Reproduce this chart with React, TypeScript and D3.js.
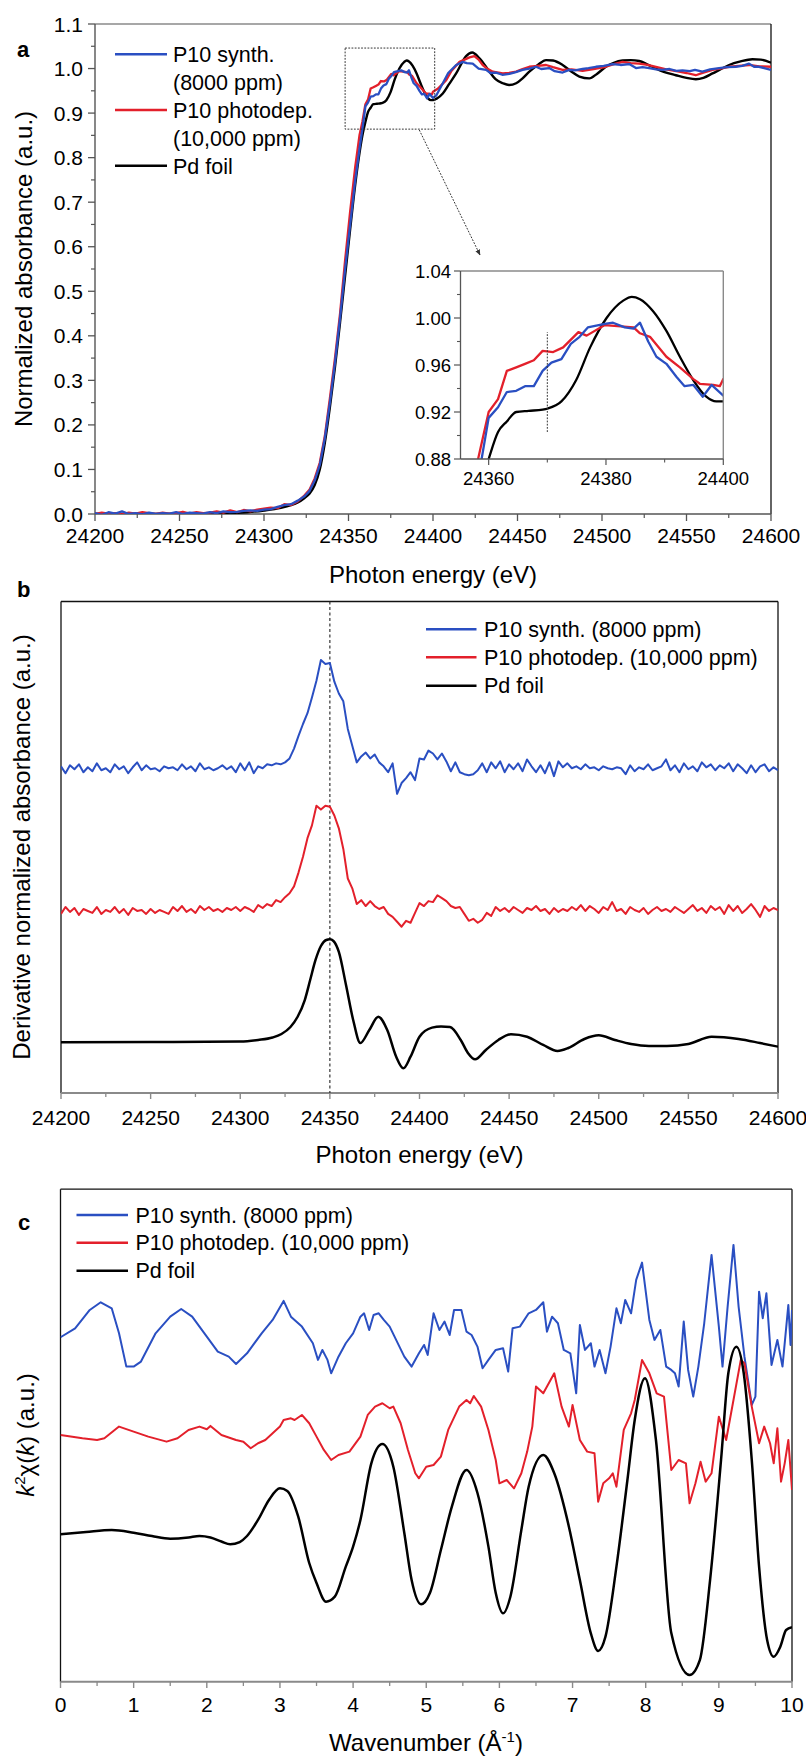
import React from 'react';
import * as d3 from 'd3';

// ---------- Panel a : normalized XANES (energy eV, normalized absorbance) ----------
const aSeriesNames = ['P10 synth.', 'P10 photodep.', 'Pd foil'];
const aLegendLines = [['P10 synth.', '(8000 ppm)'], ['P10 photodep.', '(10,000 ppm)'], ['Pd foil']];

const aBlue: [number, number][] = [
  [24200,0.002],[24204,-0.002],[24208,0.004],[24212,0.001],[24216,0.006],[24220,0.0],[24224,0.002],[24228,-0.001],[24232,0.003],[24236,0.0],
  [24240,0.002],[24244,0.001],[24248,0.004],[24252,0.0],[24256,0.003],[24260,0.002],[24264,0.001],[24268,0.004],[24272,0.002],[24276,0.006],
  [24280,0.004],[24284,0.005],[24288,0.007],[24292,0.008],[24296,0.007],[24300,0.01],[24304,0.011],[24308,0.016],[24312,0.02],[24316,0.022],[24320,0.03],
  [24324,0.04],[24327,0.052],[24330,0.075],[24333,0.11],[24336,0.17],[24339,0.25],[24342,0.34],[24345,0.44],[24348,0.55],[24351,0.65],[24354,0.75],
  [24356.5,0.82],[24358.8,0.88],[24360,0.915],[24361.6,0.924],[24363.1,0.937],[24364.7,0.938],[24366.2,0.942],[24367.7,0.942],[24369.2,0.955],
  [24370.7,0.962],[24372.4,0.965],[24374,0.978],[24375.5,0.984],[24376.9,0.992],[24379.8,0.995],[24381.2,0.996],[24383.2,0.992],[24384.7,0.991],
  [24385.8,0.996],[24387.2,0.98],[24388.6,0.967],[24390.3,0.961],[24392,0.95],[24393.4,0.942],[24394.9,0.943],[24396.5,0.933],[24398,0.943],[24400,0.934],
  [24402,0.94],[24405.8,0.967],[24409,0.99],[24413.7,1.008],[24417.6,1.015],[24420,1.012],[24423.5,1.011],[24427,1.0],[24431.4,0.997],[24434,0.99],
  [24437.3,0.991],[24441,0.986],[24445.2,0.988],[24449,0.992],[24453,0.997],[24457,1.0],[24460.9,1.004],[24464,0.999],[24468.8,1.001],[24472,0.994],
  [24476.7,0.991],[24480.6,0.997],[24484,0.996],[24488.5,0.999],[24492,1.001],[24496.4,1.004],[24501,1.006],[24506.3,1.01],[24511,1.008],[24516.1,1.01],
  [24520.1,1.001],[24524,1.003],[24527.9,1.001],[24532,0.998],[24535.8,0.997],[24540,0.999],[24544,0.995],[24547.6,0.996],[24552,0.994],[24555,0.997],
  [24559.4,0.993],[24564,0.998],[24569.3,1.001],[24574,1.003],[24579.1,1.004],[24583,1.006],[24587,1.011],[24590,1.004],[24592.9,1.004],[24596,1.001],[24600,0.997],
];

const aRed: [number, number][] = [
  [24200,0.0],[24204,0.003],[24208,0.001],[24212,0.002],[24216,-0.001],[24220,0.003],[24224,0.001],[24228,0.004],[24232,0.002],[24236,0.0],
  [24240,0.003],[24244,0.001],[24248,0.002],[24252,0.005],[24256,0.001],[24260,0.004],[24264,0.002],[24268,0.003],[24272,0.006],[24276,0.003],
  [24280,0.008],[24284,0.004],[24288,0.009],[24292,0.006],[24296,0.01],[24300,0.012],[24304,0.014],[24308,0.013],[24312,0.022],[24316,0.02],[24320,0.028],
  [24324,0.042],[24327,0.055],[24330,0.08],[24333,0.115],[24336,0.175],[24339,0.26],[24342,0.35],[24345,0.45],[24348,0.57],[24351,0.68],[24354,0.78],
  [24356.5,0.85],[24358.2,0.88],[24360,0.92],[24361.6,0.931],[24363.1,0.955],[24364.7,0.958],[24366.2,0.961],[24367.7,0.964],[24369.2,0.972],
  [24371,0.971],[24372.7,0.975],[24375.3,0.988],[24376.7,0.985],[24379.8,0.994],[24384.7,0.992],[24385.8,0.987],[24387.5,0.984],[24390.3,0.967],
  [24392.6,0.958],[24394.9,0.948],[24396,0.944],[24398.3,0.943],[24399.4,0.942],[24400,0.948],[24403,0.955],[24407.8,0.974],[24411,0.995],[24415.7,1.015],
  [24421.6,1.025],[24424.5,1.028],[24427,1.02],[24429.4,1.008],[24432,1.0],[24435.4,0.993],[24441.3,0.989],[24445,0.99],[24449.2,0.993],[24453,0.999],
  [24457,1.004],[24462,1.006],[24466.9,1.008],[24471,1.003],[24476.7,0.997],[24482,0.998],[24488.5,0.995],[24495,0.999],[24502.3,1.004],[24507,1.01],
  [24512.2,1.015],[24517,1.012],[24522,1.011],[24527,1.008],[24531.9,1.004],[24538,0.998],[24545.6,0.993],[24550,0.99],[24555.5,0.985],[24560,0.991],
  [24565.4,0.997],[24570,1.0],[24575.2,1.004],[24581,1.006],[24587,1.008],[24593,1.005],[24600,1.004],
];

const aBlack: [number, number][] = [
  [24200,0.0],[24250,0.0],[24280,0.002],[24290,0.004],[24300,0.008],[24310,0.014],[24316,0.02],[24320,0.026],[24324,0.036],[24327,0.046],
  [24330,0.065],[24333,0.1],[24336,0.16],[24339,0.24],[24342,0.33],[24345,0.43],[24348,0.535],[24351,0.64],[24354,0.74],[24356.5,0.81],
  [24358.5,0.855],[24360,0.88],[24361.6,0.903],[24363.1,0.912],[24364.7,0.92],[24366.8,0.921],[24369.2,0.922],[24370.1,0.923],[24372.4,0.929],
  [24374.9,0.947],[24377.3,0.975],[24380.1,1.0],[24383,1.015],[24384.4,1.018],[24385.8,1.016],[24388,1.006],[24390.3,0.989],[24392.6,0.967],
  [24394.9,0.947],[24397.1,0.933],[24398.8,0.929],[24400,0.929],[24402,0.932],[24405.8,0.944],[24409.5,0.965],[24413.7,0.989],[24419.6,1.028],
  [24423.2,1.036],[24427.5,1.023],[24433.4,0.993],[24437,0.976],[24441.3,0.967],[24445,0.963],[24449.2,0.967],[24453,0.978],[24457,0.993],
  [24462,1.008],[24466.9,1.019],[24471,1.018],[24476.7,1.008],[24482,0.993],[24486.6,0.982],[24492.5,0.978],[24497,0.988],[24502.3,1.004],
  [24507,1.013],[24512.2,1.018],[24517,1.019],[24522,1.017],[24527,1.009],[24531.9,1.0],[24537,0.992],[24543.7,0.985],[24550,0.979],
  [24555.5,0.976],[24560,0.979],[24565.4,0.989],[24570,0.998],[24575.2,1.008],[24582,1.016],[24589,1.021],[24594,1.02],[24600,1.013],
];

const aXTicks = [24200, 24250, 24300, 24350, 24400, 24450, 24500, 24550, 24600];
const aInsetXTicks = [24360, 24380, 24400];
const aInsetYTicks = [0.88, 0.92, 0.96, 1.0, 1.04];

// ---------- Panel b : derivative (grid 24200..24600 every 2.5 eV, arbitrary offset units) ----------
const bBlue = [
  33.2, 32.5, 33.3, 32.9, 33.4, 32.6, 33.1, 32.7, 33.5, 32.8,
  33.0, 32.6, 33.4, 32.9, 33.2, 32.5, 33.1, 33.6, 32.8, 33.3,
  32.9, 33.0, 32.7, 33.2, 33.0, 33.1, 32.8, 33.4, 32.9, 33.2,
  32.7, 33.5, 32.9, 33.1, 32.8, 33.0, 33.3, 32.9, 33.2, 32.6,
  33.5, 32.8, 33.6, 32.5, 33.2, 33.0, 33.4, 33.3, 33.5, 33.4,
  33.6, 34.0, 35.0, 36.3, 37.5, 38.6, 40.2, 41.9, 44.0, 43.6,
  43.7, 41.8, 40.6, 39.8, 37.0, 35.3, 33.6, 34.2, 34.6, 34.0,
  34.4, 33.6, 33.2, 32.6, 33.5, 30.4, 31.5, 32.0, 32.6, 31.8,
  34.0, 33.9, 34.8, 34.5, 33.9, 34.5, 33.7, 32.7, 33.6, 32.6,
  32.4, 32.3, 32.4, 32.8, 33.5, 32.6, 33.6, 33.0, 33.7, 32.6,
  33.4, 32.9, 33.5, 32.7, 33.9, 33.2, 32.6, 33.3, 32.5, 33.6,
  32.2, 33.7, 33.1, 33.5, 33.0, 33.2, 32.9, 33.4, 33.0, 33.1,
  32.8, 33.2, 33.0, 32.9, 33.1, 33.0, 32.4, 33.3, 32.7, 33.1,
  32.9, 33.4, 32.8, 33.0, 33.2, 33.9, 32.8, 33.3, 32.6, 33.5,
  32.9, 33.2, 32.7, 33.6, 33.1, 33.4, 32.8, 33.3, 33.0, 33.5,
  32.7, 33.4, 33.0, 32.5, 33.3, 32.6, 33.2, 33.4, 32.7, 33.1,
  32.8,
];

const bRed = [
  18.2, 18.9, 18.4, 18.8, 18.1, 18.7, 18.5, 18.3, 18.9, 18.2,
  18.6, 18.4, 18.9, 18.3, 18.7, 18.1, 18.8, 18.5, 18.6, 18.2,
  18.7, 18.3, 18.6, 18.4, 18.2, 18.9, 18.5, 19.0, 18.4, 18.7,
  18.3, 19.0, 18.6, 18.9, 18.5, 18.7, 18.4, 18.8, 18.6, 18.9,
  18.5, 18.9, 18.7, 18.4, 19.1, 18.8, 19.2, 19.0, 19.6, 19.4,
  19.9, 20.3, 21.0, 22.4, 24.0, 25.9, 27.2, 29.2, 28.8, 29.2,
  29.1, 28.2, 26.9, 24.8, 21.8, 20.8, 19.2, 19.6, 19.0, 19.5,
  19.0, 18.7, 18.9, 18.2, 17.9, 17.4, 16.9, 17.5, 17.3, 18.3,
  19.3, 19.0, 19.5, 19.4, 20.1, 19.8, 19.5, 19.0, 18.8, 18.9,
  18.2, 17.5, 17.7, 17.3, 17.6, 18.3, 18.0, 18.9, 18.5, 18.8,
  18.4, 18.9, 18.6, 18.3, 18.8, 18.6, 19.0, 18.5, 18.7, 18.2,
  18.8, 18.4, 18.7, 18.5, 18.9, 18.6, 19.1, 18.5, 19.0, 18.7,
  18.3, 18.9, 18.6, 19.4, 18.5, 18.7, 18.2, 18.9, 18.6, 18.4,
  18.8, 18.2, 18.6, 18.9, 18.5, 18.7, 18.4, 18.9, 18.6, 18.3,
  18.7, 19.1, 18.5, 18.8, 18.3, 19.0, 18.6, 18.9, 18.2, 19.1,
  18.5, 19.0, 18.3, 18.7, 19.2, 18.6, 17.9, 19.0, 18.5, 18.8,
  18.6,
];

const bBlack: [number, number][] = [
  [24200,5.15],[24250,5.18],[24300,5.23],[24310,5.39],[24318,5.64],[24323,6.0],[24328,6.71],[24332,7.75],[24336,9.45],[24339,11.48],
  [24342,13.52],[24345,14.94],[24348,15.55],[24350,15.62],[24352,15.45],[24355,14.33],[24359,10.98],[24363,7.42],[24367,5.08],[24372,6.4],
  [24377,7.75],[24382,6.4],[24387,3.69],[24391,2.51],[24395,3.69],[24400,5.72],[24407,6.64],[24412,6.76],[24417,6.71],[24423,5.39],
  [24427,4.07],[24431,3.42],[24437,4.37],[24444,5.39],[24451,5.97],[24460,5.72],[24469,4.88],[24477,4.27],[24483,4.57],[24492,5.49],
  [24500,5.86],[24509,5.39],[24518,4.98],[24528,4.78],[24538,4.78],[24550,4.98],[24563,5.72],[24578,5.49],[24590,5.08],[24600,4.71],
];

const bGridStart = 24200;
const bGridStep = 2.5;
const bXTicks = [24200, 24250, 24300, 24350, 24400, 24450, 24500, 24550, 24600];
const bMarkEnergy = 24350;

// ---------- Panel c : k^2 chi(k) (wavenumber, arbitrary offset units) ----------
const cBlue: [number, number][] = [
  [0,34.97],[0.2,35.88],[0.4,37.74],[0.55,38.52],[0.7,37.91],[0.8,35.37],[0.9,31.99],[1.0,31.99],[1.1,32.5],[1.3,35.37],
  [1.5,37.06],[1.65,37.84],[1.8,37.06],[2.0,35.03],[2.15,33.51],[2.3,33.0],[2.4,32.26],[2.55,33.34],[2.75,35.37],[2.9,36.73],
  [3.05,38.66],[3.15,37.06],[3.3,36.05],[3.45,34.36],[3.52,32.67],[3.58,33.68],[3.65,32.67],[3.7,31.31],[3.8,33.0],[3.9,34.36],
  [4.0,35.37],[4.1,37.06],[4.15,37.4],[4.22,35.71],[4.28,37.23],[4.35,37.4],[4.42,36.73],[4.5,36.05],[4.7,33.0],[4.8,31.99],
  [4.9,33.34],[4.97,34.19],[5.02,33.17],[5.1,37.4],[5.18,35.71],[5.25,36.56],[5.32,35.2],[5.38,37.74],[5.48,37.74],[5.55,35.54],
  [5.62,35.2],[5.7,34.02],[5.77,31.82],[5.85,32.67],[5.95,33.68],[6.05,33.85],[6.12,31.48],[6.18,35.88],[6.28,36.05],[6.4,37.4],
  [6.5,37.74],[6.6,38.52],[6.65,35.54],[6.72,37.06],[6.8,36.39],[6.88,33.68],[6.97,33.34],[7.05,29.28],[7.1,36.22],[7.17,33.68],
  [7.25,34.36],[7.3,31.99],[7.37,33.68],[7.45,31.31],[7.52,34.02],[7.6,37.91],[7.66,36.39],[7.72,38.76],[7.8,37.4],[7.87,40.79],
  [7.95,42.55],[8.05,36.73],[8.12,34.7],[8.2,35.71],[8.28,31.99],[8.35,31.65],[8.4,31.31],[8.45,29.96],[8.52,36.56],[8.58,31.65],
  [8.65,28.94],[8.72,31.99],[8.8,36.39],[8.9,43.33],[9.0,36.05],[9.05,31.99],[9.12,38.08],[9.2,44.34],[9.27,38.08],[9.35,33.0],
  [9.45,28.1],[9.5,28.94],[9.55,39.6],[9.6,36.9],[9.65,39.43],[9.72,32.16],[9.8,34.7],[9.87,31.99],[9.95,38.25],[9.98,34.19],[10.0,37.74],
];

const cRed: [number, number][] = [
  [0,25.05],[0.3,24.71],[0.5,24.54],[0.6,24.71],[0.8,25.9],[1.0,25.39],[1.2,24.88],[1.45,24.37],[1.6,24.71],[1.75,25.56],
  [1.9,25.9],[2.0,25.63],[2.05,25.97],[2.2,25.05],[2.4,24.54],[2.5,24.37],[2.6,23.7],[2.7,24.21],[2.8,24.54],[2.9,25.22],
  [3.0,25.9],[3.05,26.57],[3.15,26.74],[3.2,26.57],[3.3,27.08],[3.4,26.24],[3.5,24.88],[3.6,23.53],[3.7,22.51],[3.8,23.02],
  [3.95,23.36],[4.1,24.88],[4.2,27.08],[4.3,27.93],[4.4,28.27],[4.5,27.76],[4.55,27.93],[4.65,26.24],[4.75,23.52],[4.85,21.16],
  [4.9,20.65],[5.0,21.83],[5.1,22.0],[5.2,22.85],[5.3,25.56],[5.45,27.93],[5.55,28.6],[5.6,28.27],[5.65,29.01],[5.75,27.93],
  [5.85,25.56],[5.95,22.51],[6.0,20.14],[6.1,20.48],[6.2,19.63],[6.3,21.16],[6.38,23.36],[6.45,25.9],[6.5,29.96],[6.6,29.28],
  [6.75,31.31],[6.85,27.93],[6.95,25.9],[7.0,28.1],[7.1,24.54],[7.2,23.36],[7.3,23.19],[7.35,18.28],[7.42,20.14],[7.5,20.65],
  [7.55,21.16],[7.6,19.8],[7.7,25.56],[7.8,27.25],[7.85,28.6],[7.95,32.67],[8.05,31.31],[8.15,29.28],[8.25,28.94],[8.35,21.49],
  [8.45,22.51],[8.55,22.17],[8.6,18.11],[8.68,20.14],[8.75,22.34],[8.82,20.31],[8.9,21.16],[9.0,26.91],[9.1,24.54],[9.2,28.6],
  [9.3,32.67],[9.35,32.33],[9.45,27.93],[9.55,24.21],[9.62,25.9],[9.7,24.21],[9.75,22.17],[9.8,25.73],[9.85,20.31],[9.9,22.17],
  [9.95,24.54],[10.0,19.46],
];

const cBlack: [number, number][] = [
  [0,14.96],[0.35,15.2],[0.7,15.4],[1.0,15.13],[1.25,14.79],[1.5,14.52],[1.75,14.64],[1.9,14.79],[2.05,14.64],[2.2,14.23],
  [2.32,13.95],[2.45,14.18],[2.55,14.79],[2.7,16.42],[2.85,18.45],[3.0,19.63],[3.1,19.36],[3.25,16.75],[3.4,12.05],[3.5,10.02],
  [3.63,8.12],[3.75,8.63],[3.9,11.68],[4.0,13.71],[4.1,16.42],[4.25,22.2],[4.4,24.13],[4.55,21.83],[4.7,15.1],[4.8,10.32],
  [4.93,7.86],[5.05,9.0],[5.2,13.37],[5.35,17.77],[5.55,21.49],[5.7,19.16],[5.85,13.71],[5.95,9.0],[6.05,6.94],[6.15,8.63],
  [6.3,15.4],[6.4,19.8],[6.6,23.02],[6.75,21.16],[6.95,15.74],[7.1,10.32],[7.25,4.91],[7.35,3.12],[7.45,4.57],[7.6,11.68],
  [7.75,20.48],[7.85,26.57],[7.99,30.8],[8.14,24.54],[8.35,4.94],[8.6,0.68],[8.74,2.2],[8.88,10.32],[9.03,22.51],[9.13,31.34],
  [9.24,34.01],[9.34,31.34],[9.45,22.51],[9.55,11.68],[9.66,4.23],[9.75,2.54],[9.84,3.55],[9.92,5.25],[10.0,5.52],
];

const cXTicks = [0, 1, 2, 3, 4, 5, 6, 7, 8, 9, 10];
const legendLong = ['P10 synth. (8000 ppm)', 'P10 photodep. (10,000 ppm)', 'Pd foil'];

const FONT = "'Liberation Sans', Arial, Helvetica, sans-serif";
const BLUE = '#2a4fc2';
const RED = '#e3202b';
const BLACK = '#000000';
const seriesColors = [BLUE, RED, BLACK];

export default function App() {
  // ----- scales -----
  const xA = d3.scaleLinear().domain([24200, 24600]).range([95, 771]);
  const yA = d3.scaleLinear().domain([0, 1.1]).range([514, 24]);
  const xI = d3.scaleLinear().domain([24355.2, 24400]).range([460.5, 723.3]);
  const yI = d3.scaleLinear().domain([0.88, 1.04]).range([459, 271]);
  const xB = d3.scaleLinear().domain([24200, 24600]).range([61, 778]);
  const yB = d3.scaleLinear().domain([0, 50]).range([1093, 601]);
  const xC = d3.scaleLinear().domain([0, 10]).range([60.5, 792]);
  const yC = d3.scaleLinear().domain([0, 50]).range([1681.7, 1189.2]);

  const mk = (xs: any, ys: any, curve: any) =>
    d3.line<[number, number]>().x(d => xs(d[0])).y(d => ys(d[1])).curve(curve);

  const lA = mk(xA, yA, d3.curveLinear);
  const lAs = mk(xA, yA, d3.curveMonotoneX);
  const lI = mk(xI, yI, d3.curveLinear);
  const lIs = mk(xI, yI, d3.curveMonotoneX);
  const lB = mk(xB, yB, d3.curveLinear);
  const lBs = mk(xB, yB, d3.curveMonotoneX);
  const lC = mk(xC, yC, d3.curveLinear);
  const lCs = mk(xC, yC, d3.curveMonotoneX);

  const grid = (vals: number[]) => vals.map((v, i) => [bGridStart + i * bGridStep, v] as [number, number]);

  const aMinorX = d3.range(24225, 24600, 50);
  const aYTicks = yA.ticks(11);
  const aMinorY = d3.range(0.05, 1.1, 0.1);
  const iMinorX = [24370, 24390];
  const iMinorY = [0.9, 0.94, 0.98, 1.02];
  const bMinorX = d3.range(24225, 24600, 50);
  const cMinorX = d3.range(0.5, 10, 1);

  const axisGray = '#555';
  const frameGray = '#8a8a8a';

  return (
    <div style={{ position: 'absolute', left: 0, top: 0 }}>
      <svg width={806} height={1763} style={{ display: 'block', background: '#fff' }} fontFamily={FONT}>
        <defs>
          <clipPath id="clipA"><rect x={95} y={24} width={676} height={490} /></clipPath>
          <clipPath id="clipI"><rect x={460.5} y={271} width={262.8} height={188} /></clipPath>
          <clipPath id="clipB"><rect x={61} y={601} width={717} height={492} /></clipPath>
          <clipPath id="clipC"><rect x={60.5} y={1189.2} width={731.5} height={492.5} /></clipPath>
          <marker id="arrowHead" viewBox="0 0 10 10" refX="9" refY="5" markerWidth="6" markerHeight="6" orient="auto">
            <path d="M0,1 L10,5 L0,9 z" fill="#333" />
          </marker>
        </defs>

        {/* ================= Panel a ================= */}
        <text x={17} y={57} fontSize={22} fontWeight="bold">a</text>
        {/* frame */}
        <line x1={95} x2={771} y1={24} y2={24} stroke={frameGray} strokeWidth={1.6} />
        <line x1={771} x2={771} y1={24} y2={514} stroke="#111" strokeWidth={1.3} />
        <line x1={95} x2={95} y1={24} y2={514} stroke={axisGray} strokeWidth={1.4} />
        <line x1={95} x2={771} y1={514} y2={514} stroke={axisGray} strokeWidth={1.4} />
        {aYTicks.map(t => (
          <g key={'ay' + t}>
            <line x1={88} x2={95} y1={yA(t)} y2={yA(t)} stroke={axisGray} strokeWidth={1.3} />
            <text x={83} y={yA(t)} dy="0.36em" textAnchor="end" fontSize={21}>{d3.format('.1f')(t)}</text>
          </g>
        ))}
        {aMinorY.map(t => (
          <line key={'aym' + t} x1={91} x2={95} y1={yA(t)} y2={yA(t)} stroke={axisGray} strokeWidth={1.2} />
        ))}
        {aXTicks.map(t => (
          <g key={'ax' + t}>
            <line x1={xA(t)} x2={xA(t)} y1={514} y2={521} stroke={axisGray} strokeWidth={1.3} />
            <text x={xA(t)} y={542.7} textAnchor="middle" fontSize={21}>{t}</text>
          </g>
        ))}
        {aMinorX.map(t => (
          <line key={'axm' + t} x1={xA(t)} x2={xA(t)} y1={514} y2={518} stroke={axisGray} strokeWidth={1.2} />
        ))}
        <text x={433} y={583} textAnchor="middle" fontSize={24}>Photon energy (eV)</text>
        <text transform="translate(32,269) rotate(-90)" textAnchor="middle" fontSize={24}>Normalized absorbance (a.u.)</text>

        <g clipPath="url(#clipA)" fill="none" strokeLinejoin="round">
          <path d={lAs(aBlack) || ''} stroke={BLACK} strokeWidth={2.4} />
          <path d={lA(aRed) || ''} stroke={RED} strokeWidth={2.3} />
          <path d={lA(aBlue) || ''} stroke={BLUE} strokeWidth={2.3} />
        </g>

        {/* legend a */}
        {aLegendLines.map((lines, i) => {
          const y0 = [54.3, 110, 165.7][i];
          return (
            <g key={'la' + i}>
              <line x1={115} x2={167} y1={y0} y2={y0} stroke={seriesColors[i]} strokeWidth={2.6} />
              {lines.map((s, j) => (
                <text key={j} x={173} y={y0 + 8 + j * 27.7} fontSize={21.5}>{s}</text>
              ))}
            </g>
          );
        })}

        {/* zoom box and arrow */}
        <rect x={xA(24348)} y={yA(1.046)} width={xA(24401) - xA(24348)} height={yA(0.864) - yA(1.046)}
          fill="none" stroke="#333" strokeWidth={1} strokeDasharray="1.8,1.4" />
        <line x1={419.3} y1={130} x2={480} y2={255} stroke="#333" strokeWidth={1} strokeDasharray="1.8,1.4" markerEnd="url(#arrowHead)" />

        {/* inset */}
        <rect x={460.5} y={271} width={262.8} height={188} fill="#fff" />
        <g clipPath="url(#clipI)" fill="none" strokeLinejoin="round">
          <path d={lIs(aBlack) || ''} stroke={BLACK} strokeWidth={2.3} />
          <path d={lI(aRed) || ''} stroke={RED} strokeWidth={2.3} />
          <path d={lI(aBlue) || ''} stroke={BLUE} strokeWidth={2.3} />
        </g>
        <line x1={xI(24370)} x2={xI(24370)} y1={yI(0.903)} y2={yI(0.988)} stroke="#333" strokeWidth={1} strokeDasharray="1.8,1.4" />
        <line x1={460.5} x2={723.3} y1={271} y2={271} stroke={frameGray} strokeWidth={1.4} />
        <line x1={723.3} x2={723.3} y1={271} y2={459} stroke={frameGray} strokeWidth={1.4} />
        <line x1={460.5} x2={460.5} y1={271} y2={459} stroke={axisGray} strokeWidth={1.3} />
        <line x1={460.5} x2={723.3} y1={459} y2={459} stroke={axisGray} strokeWidth={1.3} />
        {aInsetYTicks.map(t => (
          <g key={'iy' + t}>
            <line x1={454} x2={460.5} y1={yI(t)} y2={yI(t)} stroke={axisGray} strokeWidth={1.2} />
            <text x={451} y={yI(t)} dy="0.36em" textAnchor="end" fontSize={18.5}>{d3.format('.2f')(t)}</text>
          </g>
        ))}
        {iMinorY.map(t => (
          <line key={'iym' + t} x1={457} x2={460.5} y1={yI(t)} y2={yI(t)} stroke={axisGray} strokeWidth={1.1} />
        ))}
        {aInsetXTicks.map(t => (
          <g key={'ix' + t}>
            <line x1={xI(t)} x2={xI(t)} y1={459} y2={465} stroke={axisGray} strokeWidth={1.2} />
            <text x={xI(t)} y={485} textAnchor="middle" fontSize={18.5}>{t}</text>
          </g>
        ))}
        {iMinorX.map(t => (
          <line key={'ixm' + t} x1={xI(t)} x2={xI(t)} y1={459} y2={462.5} stroke={axisGray} strokeWidth={1.1} />
        ))}

        {/* ================= Panel b ================= */}
        <text x={17} y={597} fontSize={22} fontWeight="bold">b</text>
        <line x1={61} x2={778} y1={601.5} y2={601.5} stroke="#111" strokeWidth={1.3} />
        <line x1={61} x2={61} y1={601.5} y2={1093} stroke="#111" strokeWidth={1.3} />
        <line x1={778} x2={778} y1={601.5} y2={1093} stroke="#111" strokeWidth={1.3} />
        <line x1={61} x2={778} y1={1093} y2={1093} stroke={frameGray} strokeWidth={2} />
        {bXTicks.map(t => (
          <g key={'bx' + t}>
            <line x1={xB(t)} x2={xB(t)} y1={1093} y2={1099} stroke={frameGray} strokeWidth={1.4} />
            <text x={xB(t)} y={1125} textAnchor="middle" fontSize={21}>{t}</text>
          </g>
        ))}
        {bMinorX.map(t => (
          <line key={'bxm' + t} x1={xB(t)} x2={xB(t)} y1={1093} y2={1097} stroke={frameGray} strokeWidth={1.3} />
        ))}
        <line x1={xB(bMarkEnergy)} x2={xB(bMarkEnergy)} y1={601.5} y2={1093} stroke="#222" strokeWidth={1.1} strokeDasharray="3,2.5" />
        <g clipPath="url(#clipB)" fill="none" strokeLinejoin="round">
          <path d={lB(grid(bBlue)) || ''} stroke={BLUE} strokeWidth={2} />
          <path d={lB(grid(bRed)) || ''} stroke={RED} strokeWidth={2} />
          <path d={lBs(bBlack) || ''} stroke={BLACK} strokeWidth={2.5} />
        </g>
        {legendLong.map((s, i) => {
          const y0 = [629.3, 657.3, 685.7][i];
          return (
            <g key={'lb' + i}>
              <line x1={426} x2={476.5} y1={y0} y2={y0} stroke={seriesColors[i]} strokeWidth={2.6} />
              <text x={484} y={y0 + 7.7} fontSize={21.5}>{s}</text>
            </g>
          );
        })}
        <text x={419.5} y={1163} textAnchor="middle" fontSize={24}>Photon energy (eV)</text>
        <text transform="translate(30,847) rotate(-90)" textAnchor="middle" fontSize={24}>Derivative normalized absorbance (a.u.)</text>

        {/* ================= Panel c ================= */}
        <text x={18} y={1230} fontSize={22} fontWeight="bold">c</text>
        <line x1={60.5} x2={792} y1={1189.2} y2={1189.2} stroke="#111" strokeWidth={1.3} />
        <line x1={60.5} x2={60.5} y1={1189.2} y2={1681.7} stroke="#111" strokeWidth={1.3} />
        <line x1={792} x2={792} y1={1189.2} y2={1681.7} stroke="#111" strokeWidth={1.3} />
        <line x1={60.5} x2={792} y1={1681.7} y2={1681.7} stroke={frameGray} strokeWidth={2} />
        {cXTicks.map(t => (
          <g key={'cx' + t}>
            <line x1={xC(t)} x2={xC(t)} y1={1681.7} y2={1688} stroke={frameGray} strokeWidth={1.4} />
            <text x={xC(t)} y={1712} textAnchor="middle" fontSize={21}>{t}</text>
          </g>
        ))}
        {cMinorX.map(t => (
          <line key={'cxm' + t} x1={xC(t)} x2={xC(t)} y1={1681.7} y2={1686} stroke={frameGray} strokeWidth={1.3} />
        ))}
        <g clipPath="url(#clipC)" fill="none" strokeLinejoin="round">
          <path d={lC(cBlue) || ''} stroke={BLUE} strokeWidth={2} />
          <path d={lC(cRed) || ''} stroke={RED} strokeWidth={2} />
          <path d={lCs(cBlack) || ''} stroke={BLACK} strokeWidth={2.5} />
        </g>
        {legendLong.map((s, i) => {
          const y0 = [1215, 1242.7, 1270.7][i];
          return (
            <g key={'lc' + i}>
              <line x1={76.5} x2={128} y1={y0} y2={y0} stroke={seriesColors[i]} strokeWidth={2.6} />
              <text x={135.4} y={y0 + 7.7} fontSize={21.5}>{s}</text>
            </g>
          );
        })}
        <text x={426} y={1751} textAnchor="middle" fontSize={24}>
          Wavenumber (Å<tspan fontSize={15} dy={-9}>-1</tspan><tspan dy={9}>)</tspan>
        </text>
        <text transform="translate(34,1435) rotate(-90)" textAnchor="middle" fontSize={24}>
          <tspan fontStyle="italic">k</tspan><tspan fontSize={15} dy={-9}>2</tspan><tspan dy={9}>χ(</tspan><tspan fontStyle="italic">k</tspan>) (a.u.)
        </text>
      </svg>
    </div>
  );
}
